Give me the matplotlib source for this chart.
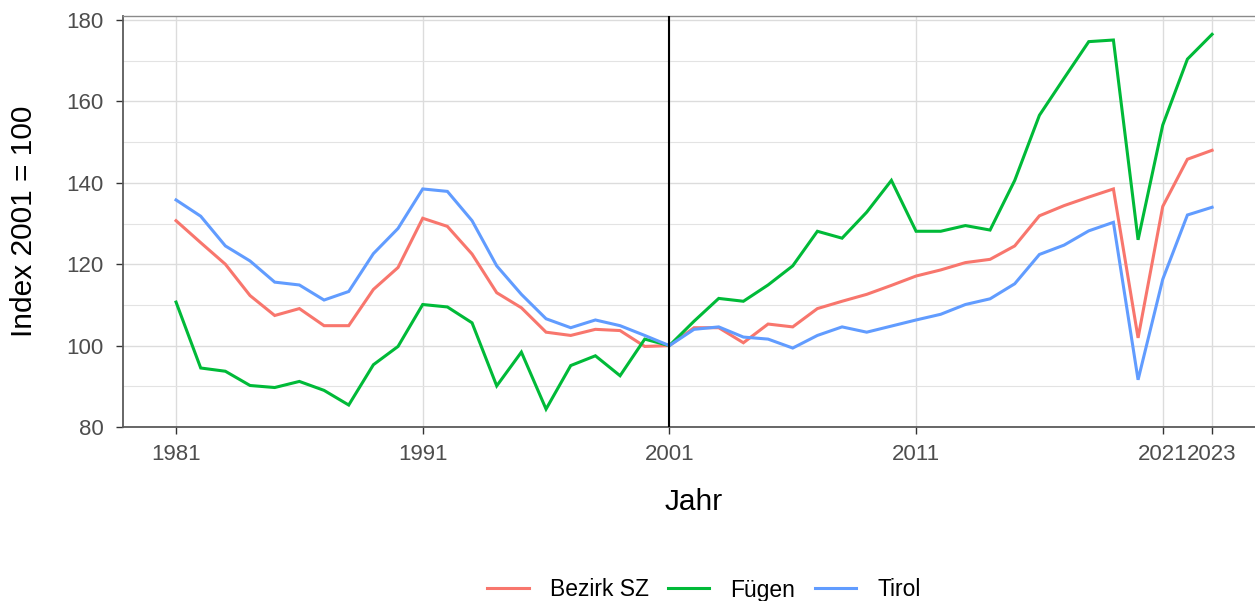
import matplotlib
matplotlib.use("Agg")
import matplotlib.pyplot as plt
from matplotlib.ticker import MultipleLocator, FixedLocator

plt.rcParams['font.family'] = ['Liberation Sans', 'DejaVu Sans']

years = list(range(1981, 2024))

bezirk_sz = [130.7, 125.3, 120.0, 112.3, 107.4, 109.1, 104.9, 104.9, 113.8, 119.2,
             131.3, 129.3, 122.5, 113.0, 109.3, 103.3, 102.5, 104.0, 103.7, 99.8,
             100.0, 104.4, 104.4, 100.7, 105.3, 104.6, 109.1, 110.9, 112.6, 114.8,
             117.1, 118.6, 120.4, 121.2, 124.5, 131.9, 134.4, 136.5, 138.5, 101.9,
             134.2, 145.8, 148.0]

fuegen = [110.7, 94.5, 93.7, 90.2, 89.7, 91.2, 89.0, 85.4, 95.3, 99.8,
          110.1, 109.5, 105.6, 90.1, 98.4, 84.4, 95.1, 97.5, 92.6, 101.6,
          100.0, 106.0, 111.6, 110.9, 114.9, 119.6, 128.1, 126.4, 132.8, 140.6,
          128.1, 128.1, 129.5, 128.4, 140.6, 156.6, 165.7, 174.7, 175.1, 126.0,
          154.2, 170.4, 176.5]

tirol = [135.8, 131.8, 124.5, 120.8, 115.6, 114.9, 111.2, 113.3, 122.6, 128.8,
         138.5, 137.9, 130.7, 119.6, 112.6, 106.6, 104.4, 106.3, 104.9, 102.5,
         100.0, 104.0, 104.6, 102.1, 101.6, 99.4, 102.5, 104.6, 103.3, 104.8,
         106.3, 107.7, 110.1, 111.5, 115.2, 122.4, 124.7, 128.2, 130.3, 91.6,
         116.3, 132.1, 134.0]

series_names = ["Bezirk SZ", "Fügen", "Tirol"]
series_colors = ["#F8766D", "#00BA38", "#619CFF"]
x_ticks = [1981, 1991, 2001, 2011, 2021, 2023]
ref_year = 2001

fig = plt.figure(figsize=(12.55, 6.01), dpi=100)
ax = fig.add_axes([123/1255, 1 - 427/601, 1 - 123/1255, (427 - 16)/601])

for name, vals, col in zip(series_names, [bezirk_sz, fuegen, tirol], series_colors):
    ax.plot(years, vals, color=col, lw=2.2, label=name, solid_joinstyle='miter', zorder=3)

ax.axvline(ref_year, color='black', lw=1.5, zorder=4)

ax.set_xlim(1978.85, 2024.74)
ax.set_ylim(80, 181)
ax.xaxis.set_major_locator(FixedLocator(x_ticks))
ax.yaxis.set_major_locator(MultipleLocator(20))
ax.yaxis.set_minor_locator(MultipleLocator(10))

ax.grid(which='major', color='#dcdcdc', lw=1.0, zorder=0)
ax.grid(which='minor', axis='y', color='#e3e3e3', lw=0.8, zorder=0)
ax.set_axisbelow(True)

for s in ['left', 'bottom']:
    ax.spines[s].set_color('#5a5a5a')
    ax.spines[s].set_linewidth(1.3)
ax.spines['top'].set_color('#8a8a8a')
ax.spines['top'].set_linewidth(1.0)
ax.spines['right'].set_visible(False)

ax.tick_params(which='major', length=5, width=1.0, color='#333333',
               labelsize=16, labelcolor='#4d4d4d')
ax.tick_params(axis='x', pad=7.5)
ax.tick_params(axis='y', pad=9)
ax.tick_params(which='minor', length=0)

ax.set_xlabel("Jahr", fontsize=21.5, color='black', va='center', ha='center')
ax.xaxis.set_label_coords((694 - 123) / 1132, (427 - 502) / 411)
ax.set_ylabel("Index 2001 = 100", fontsize=21.5, color='black', va='center', ha='center')
ax.yaxis.set_label_coords((24 - 123) / 1132, 0.5)

handles, labels = ax.get_legend_handles_labels()
fig.legend(handles, labels, loc='center', bbox_to_anchor=(704/1255, 1 - 590/601),
           ncol=3, frameon=False, fontsize=16.5, handlelength=1.8,
           handletextpad=0.92, columnspacing=0.85)

fig.savefig("out.png", dpi=100)
